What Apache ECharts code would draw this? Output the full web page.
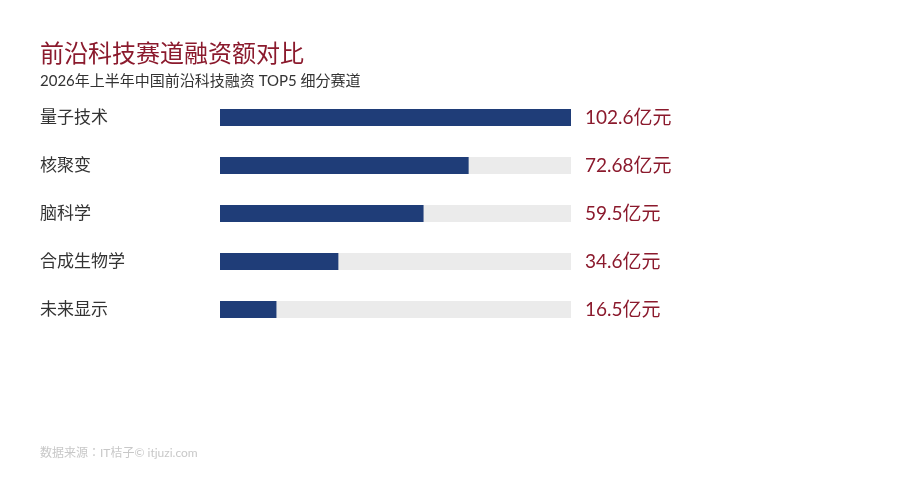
<!DOCTYPE html>
<html><head><meta charset="utf-8">
<script src="https://cdn.jsdelivr.net/npm/echarts@6/dist/echarts.min.js"></script>
<style>html,body{margin:0;padding:0;background:#fff}#c{width:900px;height:500px}</style>
</head><body><div id="c"></div>
<script>
const categories = ['量子技术', '核聚变', '脑科学', '合成生物学', '未来显示'];
const values = [102.6, 72.68, 59.5, 34.6, 16.5];
const valueLabels = ['102.6亿元', '72.68亿元', '59.5亿元', '34.6亿元', '16.5亿元'];
const axisMax = 102.6;

const FONT = 'Lato, "Noto Sans CJK JP", "Noto Sans CJK SC", sans-serif';
const chart = echarts.init(document.getElementById('c'));
chart.setOption({
  backgroundColor: '#fff',
  animation: false,
  title: [
    { text: '前沿科技赛道融资额对比', left: 40, top: 42, padding: 0,
      textStyle: { color: '#8b1a2d', fontSize: 24, fontWeight: 'normal', fontFamily: FONT } },
    { text: '2026年上半年中国前沿科技融资 TOP5 细分赛道', left: 40, top: 74, padding: 0,
      textStyle: { color: '#333', fontSize: 15, fontWeight: 'normal', fontFamily: FONT } },
    { text: '数据来源：IT桔子© itjuzi.com', left: 40, top: 447, padding: 0,
      textStyle: { color: '#c8c8c8', fontSize: 12, fontWeight: 'normal', fontFamily: FONT } }
  ],
  grid: { left: 220, width: 351, top: 93.5, height: 240, containLabel: false },
  xAxis: { type: 'value', min: 0, max: axisMax, show: false },
  yAxis: [
    { type: 'category', data: categories, inverse: true,
      axisLine: { show: false }, axisTick: { show: false }, splitLine: { show: false },
      axisLabel: { align: 'left', margin: 180, color: '#333', fontSize: 17, fontFamily: FONT,
                   verticalAlign: 'middle', padding: [0, 0, 3, 0] } },
    { type: 'category', data: valueLabels, inverse: true, position: 'right',
      axisLine: { show: false }, axisTick: { show: false }, splitLine: { show: false },
      axisLabel: { align: 'left', margin: 14, color: '#8b1a2d', fontSize: 19, fontWeight: 'normal',
                   fontFamily: FONT, verticalAlign: 'middle', padding: [3, 0, 0, 0] } }
  ],
  series: [{
    type: 'bar', data: values, barWidth: 17,
    itemStyle: { color: '#1f3d78' },
    showBackground: true,
    backgroundStyle: { color: '#ebebeb' }
  }]
});
</script></body></html>
